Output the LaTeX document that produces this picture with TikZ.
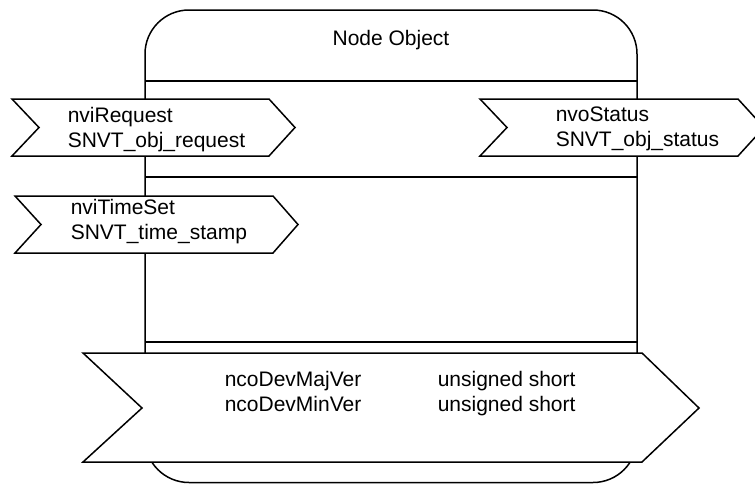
\documentclass[tikz,border=0pt]{standalone}
\usepackage{fontspec}
\setmainfont{Liberation Sans}
\usepackage{tikz}
\usetikzlibrary{positioning}
\definecolor{ink}{RGB}{0,0,0}

\begin{document}
\begin{tikzpicture}[x=1pt, y=-1pt, line width=1.5pt,
  flagshape/.style={draw=ink, fill=white, line join=miter},
  divider/.style={draw=ink},
  txt/.style={anchor=base west, inner sep=0pt, text=ink,
              font=\fontsize{21}{25}\selectfont}]
  \useasboundingbox (0,0) rectangle (755,483);
  \clip (0,0) rectangle (755,483);
  % object frame and its compartments
  \draw[ink, rounded corners=44pt] (145,10) rectangle (637,482.5);
  \foreach \y in {81, 177, 342} {
    \draw[divider] (145,\y) -- (637,\y);
  }
  \node[txt, anchor=base] (title) at (391,45) {Node Object};
  % network variables
  \draw[flagshape] (12,99) -- (269,99) -- (295,127.5) -- (269,156)
    -- (12,156) -- (39,127.5) -- cycle;
  \draw[flagshape] (15,196) -- (273,196) -- (298,224.5) -- (273,253)
    -- (15,253) -- (41,224.5) -- cycle;
  \draw[flagshape] (480,99) -- (738,99) -- (764,127.5) -- (738,156)
    -- (480,156) -- (507,127.5) -- cycle;
  % configuration properties
  \draw[flagshape] (83,353) -- (642,353) -- (699,408) -- (642,462)
    -- (83,462) -- (142,408) -- cycle;
  % labels
  \foreach \nm/\x/\y/\txt in {reqname/67/122/nviRequest,
      reqtype/67/147/SNVT\_obj\_request,
      tsname/70/214/nviTimeSet, tstype/70/239/SNVT\_time\_stamp,
      stname/555/121/nvoStatus, sttype/555/146/SNVT\_obj\_status,
      majname/224/386/ncoDevMajVer, minname/224/411/ncoDevMinVer,
      majtype/437/386/unsigned short, mintype/437/411/unsigned short} {
    \node[txt] (\nm) at (\x,\y) {\txt};
  }
\end{tikzpicture}
\end{document}
